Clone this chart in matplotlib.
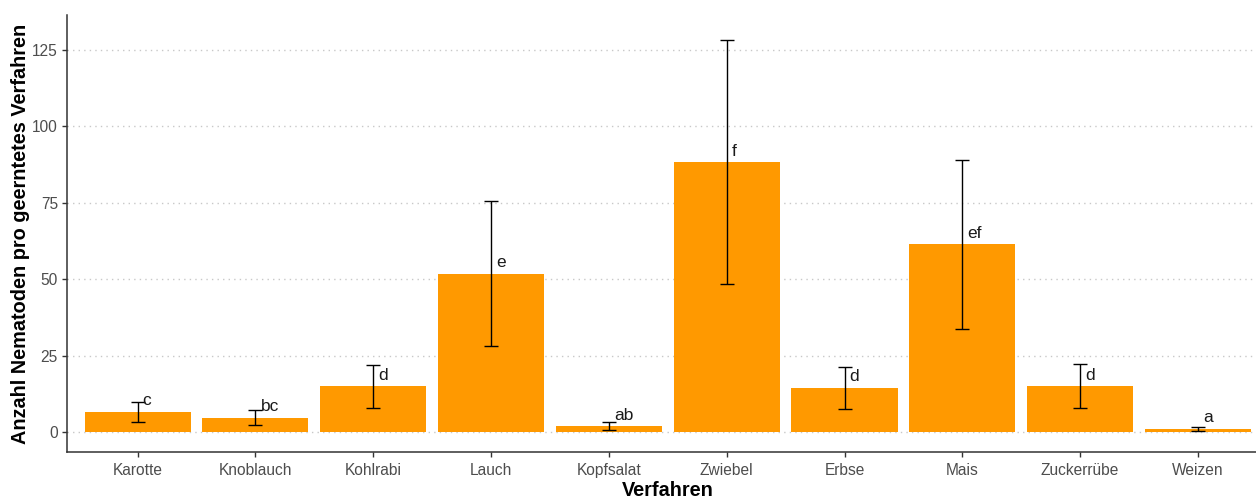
import numpy as np
import matplotlib.pyplot as plt

plt.rcParams['font.family'] = ['Liberation Sans', 'DejaVu Sans']

# Mittelwerte, Standardfehler und Buchstaben je Verfahren
verfahren = ['Karotte', 'Knoblauch', 'Kohlrabi', 'Lauch', 'Kopfsalat',
             'Zwiebel', 'Erbse', 'Mais', 'Zuckerrübe', 'Weizen']
mittel = [6.7, 4.7, 15.0, 51.8, 1.9, 88.3, 14.5, 61.4, 15.0, 1.1]
se = [3.25, 2.4, 7.0, 23.8, 1.3, 40.0, 6.9, 27.6, 7.2, 0.7]
buchstaben = ['c', 'bc', 'd', 'e', 'ab', 'f', 'd', 'ef', 'd', 'a']

fig = plt.figure(figsize=(12.56, 5.01), dpi=100)
ax = fig.add_axes([67 / 1256, 49 / 501, 1201.6 / 1256, 437 / 501])

x = np.arange(len(verfahren))
ax.bar(x, mittel, width=0.9, color='#ff9900', zorder=2)
ax.errorbar(x, mittel, yerr=se, fmt='none', ecolor='black',
            elinewidth=1.0, capsize=4.7, capthick=1.0, zorder=3)

for xi, m, b in zip(x, mittel, buchstaben):
    ax.annotate(b, (xi, m), xytext=(3.6, 4.7), textcoords='offset points',
                ha='left', va='baseline', fontsize=12.5, color='#1a1a1a')

ax.set_xlim(-0.6, 9.6)
ax.set_ylim(-6.5, 136.4)
ax.set_xticks(x)
ax.set_xticklabels(verfahren)
ax.set_yticks([0, 25, 50, 75, 100, 125])

ax.yaxis.grid(True, linestyle=(0, (1, 3)), color='#c8c8c8', linewidth=1.0, zorder=0)
ax.xaxis.grid(False)
ax.set_axisbelow(True)

for s in ['top', 'right']:
    ax.spines[s].set_visible(False)
for s in ['left', 'bottom']:
    ax.spines[s].set_color('#333333')
    ax.spines[s].set_linewidth(1.1)

ax.tick_params(axis='both', colors='#333333', labelcolor='#4d4d4d',
               labelsize=11.2, length=3.5, width=1.0)
ax.tick_params(axis='x', pad=4.5)
ax.tick_params(axis='y', pad=3)

ax.set_xlabel('Verfahren', fontsize=14.3, fontweight='bold', color='black')
ax.set_ylabel('Anzahl Nematoden pro geerntetes Verfahren', fontsize=14.3,
              fontweight='bold', color='black')
ax.xaxis.set_label_coords(0.4998, -0.066)
ax.yaxis.set_label_coords(-0.031, 0.5)

fig.savefig('out.png', dpi=100)
